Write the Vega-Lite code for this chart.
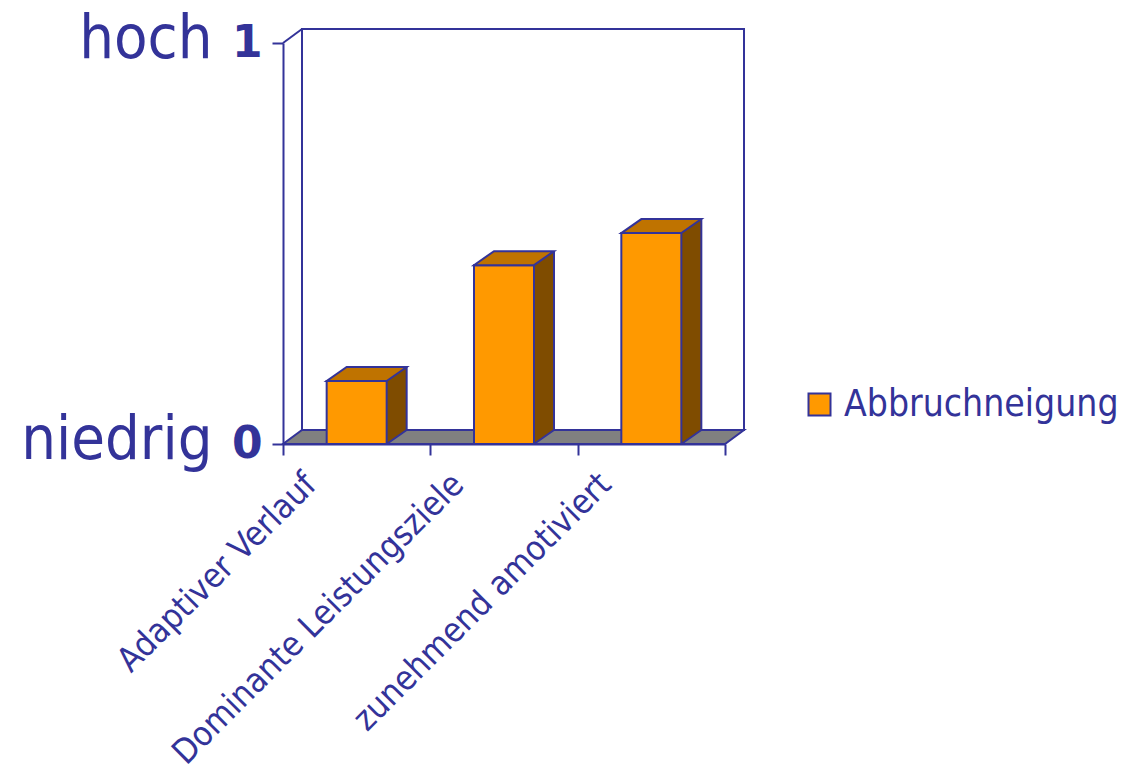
{
  "$schema": "https://vega.github.io/schema/vega-lite/v6.json",
  "width": 442,
  "height": 401,
  "autosize": {"type": "none"},
  "padding": {"left": 283, "top": 43, "right": 401, "bottom": 336},
  "background": "white",
  "config": {
    "view": {"stroke": null},
    "font": "DejaVu Sans Condensed, DejaVu Sans, sans-serif"
  },
  "layer": [
    {
      "data": {"values": [{"rahmen": "Wand"}]},
      "encoding": {
        "x": {"datum": 0, "type": "quantitative", "scale": {"domain": [0, 1], "nice": false}, "axis": null},
        "y": {
          "datum": 0,
          "type": "quantitative",
          "scale": {"domain": [0, 1], "nice": false},
          "axis": {
            "orient": "left",
            "values": [0, 1],
            "labelExpr": "datum.value == 1 ? 'hoch' : 'niedrig'",
            "ticks": false,
            "domain": false,
            "grid": false,
            "title": null,
            "labelFont": "DejaVu Sans Condensed, DejaVu Sans, sans-serif",
            "labelFontSize": 61,
            "labelColor": "#333399",
            "labelPadding": 71,
            "labelBaseline": "alphabetic",
            "labelOffset": 14,
            "labelFlush": false,
            "labelLimit": 1000,
            "labelOverlap": false
          }
        }
      },
      "layer": [
        {
          "mark": {"type": "rect", "fill": "white", "stroke": "#333399", "strokeWidth": 2, "xOffset": 19, "x2Offset": 19, "yOffset": -14, "y2Offset": -14},
          "encoding": {"x2": {"datum": 1}, "y2": {"datum": 1}}
        },
        {
          "mark": {"type": "rule", "stroke": "#333399", "strokeWidth": 2, "x2Offset": 19, "y2Offset": -14},
          "encoding": {"y": {"datum": 1}, "x2": {"datum": 0}, "y2": {"datum": 1}}
        },
        {
          "mark": {"type": "point", "shape": "M -221 0 L 221 0 L 240 -14 L -202 -14 Z", "size": 4, "filled": true, "fill": "#808080", "stroke": "#333399", "strokeWidth": 2, "opacity": 1},
          "encoding": {"x": {"datum": 0.5}}
        }
      ]
    },
    {
      "data": {
        "values": [
          {"kategorie": "Adaptiver Verlauf", "wert": 0.157, "reihe": "Abbruchneigung"},
          {"kategorie": "Dominante Leistungsziele", "wert": 0.446, "reihe": "Abbruchneigung"},
          {"kategorie": "zunehmend amotiviert", "wert": 0.526, "reihe": "Abbruchneigung"}
        ]
      },
      "encoding": {
        "x": {
          "field": "kategorie",
          "type": "nominal",
          "sort": null,
          "scale": {"paddingInner": 0, "paddingOuter": 0},
          "axis": {
            "orient": "bottom",
            "title": null,
            "tickBand": "extent",
            "tickSize": 11,
            "tickWidth": 2,
            "tickColor": "#333399",
            "domainColor": "#333399",
            "domainWidth": 2,
            "labelAngle": -45,
            "labelAlign": "right",
            "labelBaseline": "middle",
            "labelFont": "DejaVu Sans Condensed, DejaVu Sans, sans-serif",
            "labelFontSize": 34,
            "labelColor": "#333399",
            "labelPadding": 24,
            "labelOffset": -46,
            "labelLimit": 1000,
            "labelOverlap": false,
            "labelFlush": false
          }
        },
        "y": {
          "field": "wert",
          "type": "quantitative",
          "scale": {"domain": [0, 1], "nice": false},
          "axis": {
            "orient": "left",
            "title": null,
            "values": [0, 1],
            "format": "d",
            "grid": false,
            "tickSize": 11,
            "tickWidth": 2,
            "tickColor": "#333399",
            "domainColor": "#333399",
            "domainWidth": 2,
            "labelFont": "DejaVu Sans, sans-serif",
            "labelFontWeight": "bold",
            "labelFontSize": 44,
            "labelColor": "#333399",
            "labelPadding": 10,
            "labelFlush": false,
            "labelOverlap": false
          }
        }
      },
      "layer": [
        {
          "mark": {"type": "bar", "width": 20, "xOffset": 40, "yOffset": -14, "y2Offset": -14, "fill": "#7F4C00", "strokeWidth": 0},
          "encoding": {"y2": {"datum": 0}}
        },
        {
          "mark": {"type": "point", "shape": "M 30 -14 L 50 -14 L 30 0 Z", "size": 4, "filled": true, "fill": "#7F4C00", "strokeWidth": 0, "opacity": 1},
          "encoding": {"y": {"datum": 0, "type": "quantitative"}}
        },
        {
          "mark": {"type": "point", "shape": "M 30 0 L 50 -14", "size": 4, "filled": false, "stroke": "#333399", "strokeWidth": 2, "opacity": 1},
          "encoding": {"y": {"datum": 0, "type": "quantitative"}}
        },
        {
          "mark": {"type": "rule", "xOffset": 50, "yOffset": -14, "y2Offset": -14, "stroke": "#333399", "strokeWidth": 2},
          "encoding": {"y2": {"datum": 0}}
        },
        {
          "mark": {"type": "bar", "width": 60, "stroke": "#333399", "strokeWidth": 2},
          "encoding": {
            "y2": {"datum": 0},
            "fill": {
              "field": "reihe",
              "type": "nominal",
              "title": null,
              "scale": {"range": ["#FF9900"]},
              "legend": {
                "orient": "none",
                "legendX": 518,
                "legendY": 343,
                "symbolType": "square",
                "symbolSize": 484,
                "symbolStrokeColor": "#333399",
                "symbolStrokeWidth": 2,
                "symbolOpacity": 1,
                "labelFont": "DejaVu Sans Condensed, DejaVu Sans, sans-serif",
                "labelFontSize": 37,
                "labelColor": "#333399",
                "labelOffset": 6,
                "labelLimit": 1000
              }
            }
          }
        },
        {
          "mark": {"type": "point", "shape": "M -30 0 L 30 0 L 50 -14 L -10 -14 Z", "size": 4, "filled": true, "fill": "#BF7300", "stroke": "#333399", "strokeWidth": 2, "opacity": 1}
        }
      ]
    }
  ],
  "resolve": {
    "scale": {"x": "independent", "y": "independent", "fill": "independent"},
    "axis": {"x": "independent", "y": "independent"}
  }
}
